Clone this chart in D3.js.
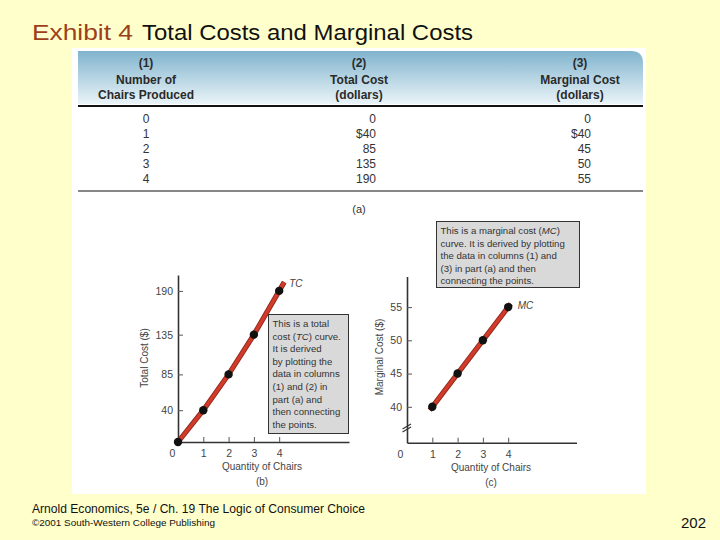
<!DOCTYPE html>
<html>
<head>
<meta charset="utf-8">
<script src="https://cdn.jsdelivr.net/npm/d3@7"></script>
<style>
  body { margin: 0; background: #ffffcc; }
  svg { display: block; font-family: "Liberation Sans", Arial, sans-serif; }
</style>
</head>
<body>
<svg id="chart" width="720" height="540"></svg>
<script>
// ---------- data ----------
const chairs = [0, 1, 2, 3, 4];
const totalCost = [0, 40, 85, 135, 190];
const marginalCost = [0, 40, 45, 50, 55];
const tcTicks = [40, 85, 135, 190];
const mcTicks = [40, 45, 50, 55];
const qtyTicks = [0, 1, 2, 3, 4];
const headers = [
  ["(1)", "Number of", "Chairs Produced"],
  ["(2)", "Total Cost", "(dollars)"],
  ["(3)", "Marginal Cost", "(dollars)"]
];
const tcNote = ["This is a total", "cost (TC) curve.", "It is derived", "by plotting the",
  "data in columns", "(1) and (2) in", "part (a) and", "then connecting", "the points."];
const mcNote = ["This is a marginal cost (MC)", "curve. It is derived by plotting",
  "the data in columns (1) and", "(3) in part (a) and then", "connecting the points."];

const svg = d3.select("#chart");
svg.append("rect").attr("width", 720).attr("height", 540).attr("fill", "#ffffcc");

// ---------- title ----------
const title = svg.append("text").attr("y", 40).attr("font-size", 22);
title.append("tspan").attr("x", 32).attr("fill", "#9c3f1a").text("Exhibit 4")
  .attr("textLength", 101).attr("lengthAdjust", "spacingAndGlyphs");
title.append("tspan").attr("x", 142).attr("fill", "#111").text("Total Costs and Marginal Costs")
  .attr("textLength", 331).attr("lengthAdjust", "spacingAndGlyphs");

// ---------- white panel ----------
svg.append("rect").attr("x", 72).attr("y", 48).attr("width", 574).attr("height", 446).attr("fill", "#fff");

// ---------- table ----------
const defs = svg.append("defs");
const grad = defs.append("linearGradient").attr("id", "hdr").attr("x1", 0).attr("y1", 0).attr("x2", 0).attr("y2", 1);
grad.append("stop").attr("offset", "0%").attr("stop-color", "#80b4ce");
grad.append("stop").attr("offset", "100%").attr("stop-color", "#eaf4f8");
const bx0 = 78, bx1 = 643, by0 = 51, by1 = 104, r = 12;
svg.append("path")
  .attr("d", `M${bx0},${by0} H${bx1 - r} Q${bx1},${by0} ${bx1},${by0 + r} V${by1} H${bx0} Z`)
  .attr("fill", "url(#hdr)");

const colCenters = [146, 359, 580];
const colRight = [null, 376, 591];
const hdrY = [67, 84, 99];
headers.forEach((h, ci) => {
  h.forEach((t, li) => {
    svg.append("text").attr("x", colCenters[ci]).attr("y", hdrY[li])
      .attr("text-anchor", "middle").attr("font-size", 12).attr("font-weight", "bold")
      .attr("fill", "#2a2a2a").text(t);
  });
});
svg.append("line").attr("x1", 78).attr("x2", 643).attr("y1", 106).attr("y2", 106)
  .attr("stroke", "#111").attr("stroke-width", 2);

const rowY = d3.scaleLinear().domain([0, 4]).range([123, 183]);
const fmt = (v, i) => (i === 1 ? "$" + v : String(v));
chairs.forEach((c, i) => {
  svg.append("text").attr("x", colCenters[0]).attr("y", rowY(i)).attr("text-anchor", "middle")
    .attr("font-size", 12).attr("fill", "#333").text(c);
  svg.append("text").attr("x", colRight[1]).attr("y", rowY(i)).attr("text-anchor", "end")
    .attr("font-size", 12).attr("fill", "#333").text(fmt(totalCost[i], i));
  svg.append("text").attr("x", colRight[2]).attr("y", rowY(i)).attr("text-anchor", "end")
    .attr("font-size", 12).attr("fill", "#333").text(fmt(marginalCost[i], i));
});
svg.append("line").attr("x1", 78).attr("x2", 643).attr("y1", 191).attr("y2", 191)
  .attr("stroke", "#111").attr("stroke-width", 1.2);
svg.append("text").attr("x", 359).attr("y", 213).attr("text-anchor", "middle")
  .attr("font-size", 11).attr("fill", "#333").text("(a)");

// ---------- helper for a panel ----------
function panel(opts) {
  const g = svg.append("g");
  const x = opts.x, y = opts.y;
  const [xa] = x.range();
  const [ya] = y.range();
  // y axis
  const yAxis = d3.axisLeft(y).tickValues(opts.yTicks).tickFormat(d3.format("d"))
    .tickSizeInner(-5).tickSizeOuter(0).tickPadding(5);
  const yg = g.append("g").attr("transform", `translate(${xa},0)`).call(yAxis);
  yg.select(".domain").attr("stroke", "#333").attr("stroke-width", 1.6);
  yg.selectAll(".tick line").attr("stroke", "#555");
  yg.selectAll(".tick text").attr("font-size", 10.5).attr("fill", "#444")
    .attr("font-family", "Liberation Sans, Arial, sans-serif");
  // x axis
  const xAxis = d3.axisBottom(x).tickValues(qtyTicks).tickFormat(d3.format("d"))
    .tickSizeInner(-5).tickSizeOuter(0).tickPadding(8);
  const xg = g.append("g").attr("transform", `translate(0,${ya})`).call(xAxis);
  xg.select(".domain").attr("stroke", "#333").attr("stroke-width", 1.6);
  xg.selectAll(".tick line").attr("stroke", "#555").attr("display", d => d === 0 ? "none" : null);
  xg.selectAll(".tick text").attr("font-size", 10.5).attr("fill", "#444")
    .attr("font-family", "Liberation Sans, Arial, sans-serif")
    .attr("dx", d => d === 0 ? opts.zeroDx : 0);

  // curve
  const pts = opts.xs.map((v, i) => [v, opts.ys[i]]);
  const n = pts.length;
  const e0 = opts.extStart, e1 = opts.extEnd;
  const first = [pts[0][0] - e0 * (pts[1][0] - pts[0][0]), pts[0][1] - e0 * (pts[1][1] - pts[0][1])];
  const last = [pts[n - 1][0] + e1 * (pts[n - 1][0] - pts[n - 2][0]), pts[n - 1][1] + e1 * (pts[n - 1][1] - pts[n - 2][1])];
  const linePts = [first, ...pts, last];
  const line = d3.line().x(d => x(d[0])).y(d => y(d[1]));
  g.append("path").attr("d", line(linePts)).attr("fill", "none")
    .attr("stroke", "#8e2a1e").attr("stroke-width", 5.2).attr("stroke-linecap", "butt");
  g.append("path").attr("d", line(linePts)).attr("fill", "none")
    .attr("stroke", "#d23a2a").attr("stroke-width", 3.4).attr("stroke-linecap", "butt");
  g.selectAll("circle").data(pts).join("circle")
    .attr("cx", d => x(d[0])).attr("cy", d => y(d[1])).attr("r", 4.2).attr("fill", "#111");

  // curve label
  g.append("text").attr("x", x(last[0]) + opts.labelDx).attr("y", y(last[1]) + opts.labelDy)
    .attr("font-size", 10).attr("font-style", "italic").attr("fill", "#444").text(opts.label);

  // y label
  g.append("text").attr("transform", `translate(${opts.yLabelX},${opts.yLabelY}) rotate(-90)`)
    .attr("text-anchor", "middle").attr("font-size", 10).attr("fill", "#444").text(opts.yLabel);
  // x label and panel letter
  const cx = opts.xLabelX;
  g.append("text").attr("x", cx).attr("y", ya + 28).attr("text-anchor", "middle")
    .attr("font-size", 10).attr("fill", "#444").text("Quantity of Chairs");
  g.append("text").attr("x", cx).attr("y", ya + 43).attr("text-anchor", "middle")
    .attr("font-size", 10).attr("fill", "#444").text(opts.letter);

  // note box
  const b = opts.box;
  g.append("rect").attr("x", b.x).attr("y", b.y).attr("width", b.w).attr("height", b.h)
    .attr("fill", "#d9d9d9").attr("stroke", "#333").attr("stroke-width", 1);
  opts.note.forEach((t, i) => {
    const tx = g.append("text").attr("x", b.x + 4).attr("y", b.y + 12.5 + i * 12.6)
      .attr("font-size", 9.6).attr("fill", "#333");
    const m = t.match(/^(.*\()(TC|MC)(\).*)$/);
    if (m) {
      tx.append("tspan").text(m[1]);
      tx.append("tspan").attr("font-style", "italic").text(m[2]);
      tx.append("tspan").text(m[3]);
    } else tx.text(t);
  });
  return g;
}

// ---------- panel (b): total cost ----------
const xTC = d3.scaleLinear().domain([0, 6.76]).range([178, 349]);
const yTC = d3.scaleLinear().domain([0, 210]).range([442, 275]);
panel({
  x: xTC, y: yTC, yTicks: tcTicks, xs: chairs, ys: totalCost,
  extStart: 0, extEnd: 0.2, label: "TC", labelDx: 5, labelDy: 5,
  yLabel: "Total Cost ($)", yLabelX: 148, yLabelY: 358,
  xLabelX: 262, letter: "(b)", zeroDx: -6,
  box: { x: 268.5, y: 314.5, w: 80, h: 119 }, note: tcNote
});

// ---------- panel (c): marginal cost ----------
const xMC = d3.scaleLinear().domain([0, 6.7]).range([407, 576.5]);
const yMC = d3.scaleLinear().domain([34.6, 59.6]).range([442.7, 276.5]);
const gMC = panel({
  x: xMC, y: yMC, yTicks: mcTicks, xs: chairs.slice(1), ys: marginalCost.slice(1),
  extStart: 0.1, extEnd: 0.1, label: "MC", labelDx: 7, labelDy: 5,
  yLabel: "Marginal Cost ($)", yLabelX: 383, yLabelY: 357,
  xLabelX: 491, letter: "(c)", zeroDx: -7,
  box: { x: 436.5, y: 221.5, w: 143, h: 66 }, note: mcNote
});
// axis break marks
const brY = yMC(37.1);
[0, 3].forEach(off => {
  gMC.append("line").attr("x1", 402.5).attr("y1", brY + 3 + off).attr("x2", 411).attr("y2", brY - 2 + off)
    .attr("stroke", "#333").attr("stroke-width", 1.2);
});

// ---------- footer ----------
svg.append("text").attr("x", 32).attr("y", 513).attr("font-size", 12).attr("fill", "#111")
  .attr("textLength", 333).attr("lengthAdjust", "spacingAndGlyphs")
  .text("Arnold Economics, 5e / Ch. 19  The Logic of Consumer Choice");
svg.append("text").attr("x", 32).attr("y", 526).attr("font-size", 9).attr("fill", "#111")
  .attr("textLength", 183).attr("lengthAdjust", "spacingAndGlyphs")
  .text("©2001 South-Western College Publishing");
svg.append("text").attr("x", 706).attr("y", 528).attr("text-anchor", "end").attr("font-size", 15)
  .attr("fill", "#111").text("202");
</script>
</body>
</html>
